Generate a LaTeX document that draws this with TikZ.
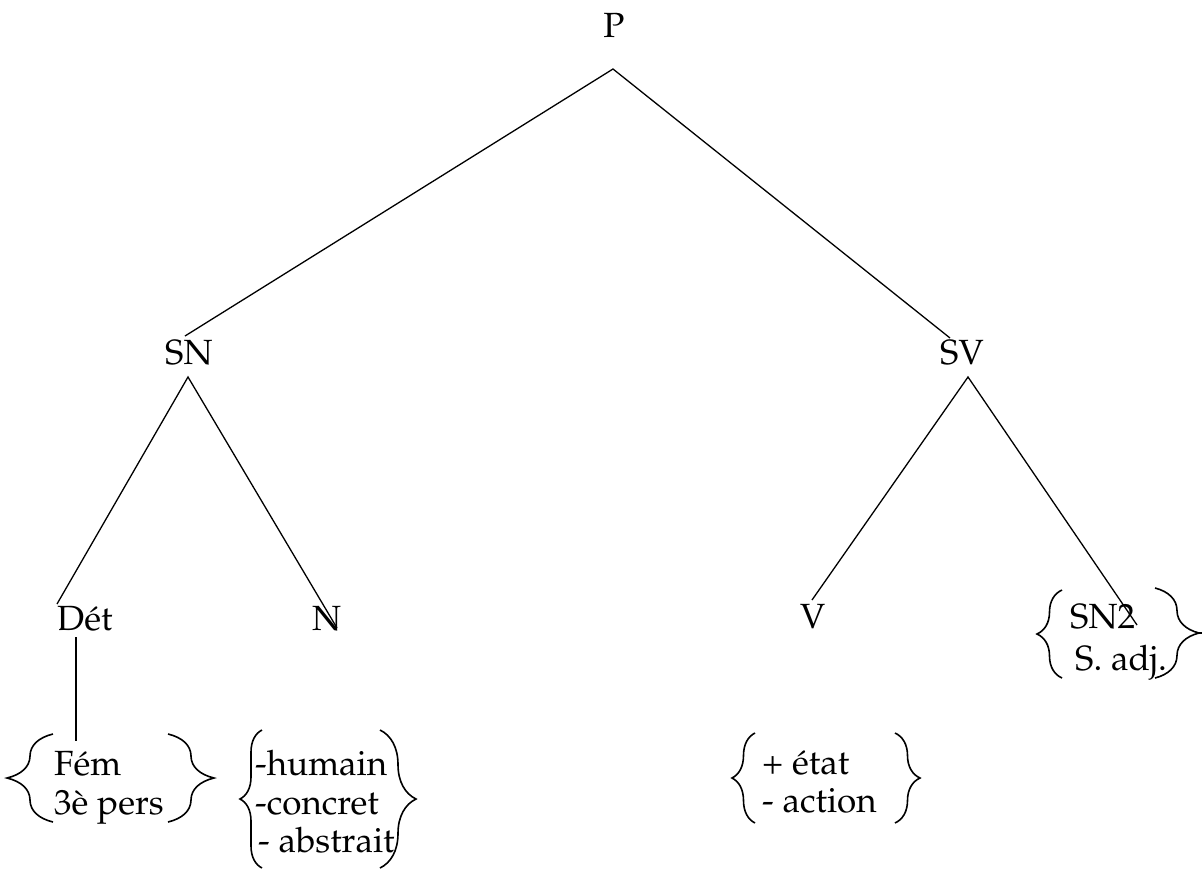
\documentclass[tikz,border=0pt]{standalone}
\usepackage[T1]{fontenc}
\usepackage{mathpazo}
\usetikzlibrary{decorations.pathreplacing}
\begin{document}
\begin{tikzpicture}[x=1pt,y=-1pt,
  lbl/.style={inner sep=0pt,anchor=base west,font=\fontsize{35}{38}\selectfont},
  branch/.style={line width=1.3pt},
  curly/.style={line width=1.6pt,decorate,decoration={brace,amplitude=#1}}]
\useasboundingbox (0,0) rectangle (1202,871);

% category labels
\node[lbl,anchor=base] (P) at (614,37) {P};
\node[lbl] (SN) at (165,364) {SN};
\node[lbl] (SV) at (940,364) {SV};
\node[lbl] (Det) at (57,630) {D\'et};
\node[lbl] (N) at (312,630) {N};
\node[lbl] (V) at (800,628) {V};
\node[lbl] (SNdeux) at (1070,628) {SN2};
\node[lbl] (Sadj) at (1075,670) {S. adj.};

% feature bundles
\node[lbl] (fem) at (54,775) {F\'em};
\node[lbl] (pers) at (54,814) {3\`e pers};
\node[lbl] (hum) at (255,775) {-humain};
\node[lbl] (conc) at (255,814) {-concret};
\node[lbl] (abs) at (258,852) {- abstrait};
\node[lbl] (etat) at (762,774) {+ \'etat};
\node[lbl] (act) at (762,812) {- action};

% branching points
\coordinate (Ptop) at (613,69);
\coordinate (SNa) at (185,336);
\coordinate (SVa) at (950,338);
\coordinate (SNb) at (188,377);
\coordinate (SVb) at (968,377);
\coordinate (Deta) at (57,604);
\coordinate (Na) at (337,628);
\coordinate (Va) at (812,600);
\coordinate (SNdeuxa) at (1137,625);
\coordinate (Detb) at (76,637);
\coordinate (femt) at (76,741);

\draw[branch] (SNa) -- (Ptop) -- (SVa);
\draw[branch] (Deta) -- (SNb) -- (Na);
\draw[branch] (Va) -- (SVb) -- (SNdeuxa);
\draw[branch] (Detb) -- (femt);

% braces around the feature bundles
\draw[curly=46] (53,822) -- (53,734);
\draw[curly=46] (168,734) -- (168,822);
\draw[curly=22] (262,868) -- (262,730);
\draw[curly=36] (380,730) -- (380,868);
\draw[curly=23] (755,823) -- (755,733);
\draw[curly=25] (895,733) -- (895,823);
\draw[curly=25] (1062,678) -- (1062,590);
\draw[curly=44] (1155,588) -- (1155,678);
\draw[line width=1.6pt] (1198,633) -- (1202,633);
\end{tikzpicture}
\end{document}
